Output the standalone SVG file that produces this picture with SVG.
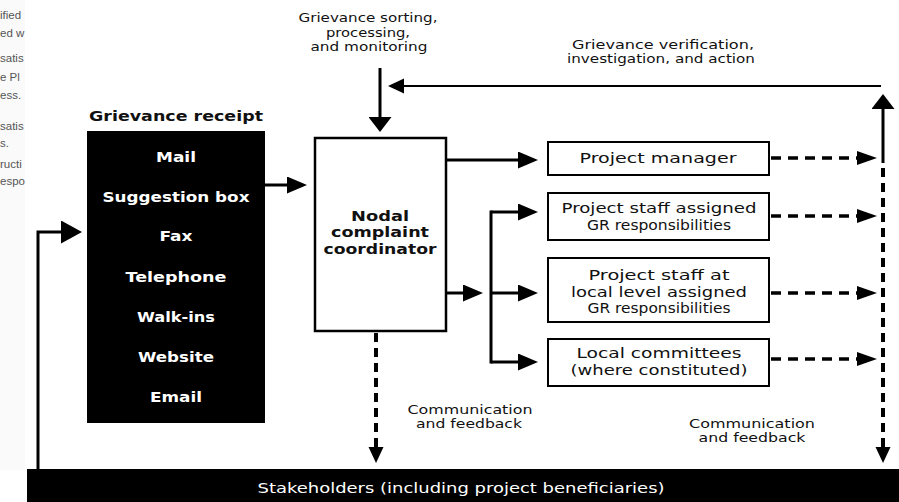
<svg xmlns="http://www.w3.org/2000/svg" width="899" height="502" viewBox="0 0 899 502">
  <style>
    .t { font-family: "DejaVu Sans", "Liberation Sans", sans-serif; fill: #111; text-anchor: middle; }
    .b { font-weight: bold; font-size: 14px; }
    .w { fill: #fff; }
    .r { font-size: 14px; }
    .s { font-size: 12.5px; }
    .frag { font-family: "Liberation Sans", Arial, sans-serif; font-size: 11.5px; fill: #555; }
    .box { fill: #fff; stroke: #000; stroke-width: 2; }
    .solid { fill: none; stroke: #000; stroke-width: 3; }
    .thin { fill: none; stroke: #000; stroke-width: 2; }
    .dash { fill: none; stroke: #000; stroke-width: 3.5; stroke-dasharray: 10 7; }
    .vdash { fill: none; stroke: #000; stroke-width: 4; stroke-dasharray: 9 6; }
  </style>
  <defs>
    <marker id="head" markerUnits="userSpaceOnUse" markerWidth="21" markerHeight="17" refX="1" refY="8.5" orient="auto">
      <path d="M0,0 L20,8.5 L0,17 z" fill="#000"/>
    </marker>
    <marker id="head-d" markerUnits="userSpaceOnUse" markerWidth="21" markerHeight="15" refX="1" refY="7" orient="auto">
      <path d="M0,0 L20,7 L0,14 z" fill="#000"/>
    </marker>
    <marker id="head-w" markerUnits="userSpaceOnUse" markerWidth="16" markerHeight="23" refX="1" refY="11.5" orient="auto">
      <path d="M0,0 L15,11.5 L0,23 z" fill="#000"/>
    </marker>
    <marker id="head-s" markerUnits="userSpaceOnUse" markerWidth="17" markerHeight="16" refX="1" refY="7.5" orient="auto">
      <path d="M0,0 L16,7.5 L0,15 z" fill="#000"/>
    </marker>
    <marker id="head-l" markerUnits="userSpaceOnUse" markerWidth="22" markerHeight="23" refX="1" refY="11.5" orient="auto">
      <path d="M0,0 L21,11.5 L0,23 z" fill="#000"/>
    </marker>
  </defs>

  <rect width="899" height="502" fill="#fff"/>

  <!-- neighbouring page text at the left margin -->
  <g id="margin-text">
    <rect x="0" y="0" width="25" height="470" fill="#fafafa"/>
    <text class="frag" x="0" y="19">ified</text>
    <text class="frag" x="0" y="37">ed w</text>
    <text class="frag" x="0" y="62">satis</text>
    <text class="frag" x="0" y="81">e Pl</text>
    <text class="frag" x="0" y="99">ess.</text>
    <text class="frag" x="0" y="130">satis</text>
    <text class="frag" x="0" y="147">s.</text>
    <text class="frag" x="0" y="168">ructi</text>
    <text class="frag" x="0" y="185">espo</text>
  </g>

  <!-- free labels -->
  <g id="labels">
    <text class="t s" x="368" y="22" textLength="139" lengthAdjust="spacingAndGlyphs">Grievance sorting,</text>
    <text class="t s" x="368" y="37" textLength="84" lengthAdjust="spacingAndGlyphs">processing,</text>
    <text class="t s" x="369" y="51" textLength="117" lengthAdjust="spacingAndGlyphs">and monitoring</text>
    <text class="t s" x="663" y="49" textLength="182" lengthAdjust="spacingAndGlyphs">Grievance verification,</text>
    <text class="t s" x="661" y="63" textLength="188" lengthAdjust="spacingAndGlyphs">investigation, and action</text>
    <text class="t s" x="470" y="414" textLength="125" lengthAdjust="spacingAndGlyphs">Communication</text>
    <text class="t s" x="469" y="428" textLength="106" lengthAdjust="spacingAndGlyphs">and feedback</text>
    <text class="t s" x="752" y="428" textLength="126" lengthAdjust="spacingAndGlyphs">Communication</text>
    <text class="t s" x="752" y="442" textLength="107" lengthAdjust="spacingAndGlyphs">and feedback</text>
  </g>

  <!-- grievance receipt channels -->
  <g id="receipt">
    <text class="t b" x="176" y="121" font-size="15" textLength="174" lengthAdjust="spacingAndGlyphs">Grievance receipt</text>
    <rect x="87" y="131" width="178" height="292" fill="#000"/>
    <text class="t b w" x="176" y="162" textLength="40" lengthAdjust="spacingAndGlyphs">Mail</text>
    <text class="t b w" x="176" y="202" textLength="147" lengthAdjust="spacingAndGlyphs">Suggestion box</text>
    <text class="t b w" x="176" y="241" textLength="33" lengthAdjust="spacingAndGlyphs">Fax</text>
    <text class="t b w" x="176" y="282" textLength="101" lengthAdjust="spacingAndGlyphs">Telephone</text>
    <text class="t b w" x="176" y="322" textLength="78" lengthAdjust="spacingAndGlyphs">Walk-ins</text>
    <text class="t b w" x="176" y="362" textLength="76" lengthAdjust="spacingAndGlyphs">Website</text>
    <text class="t b w" x="176" y="402" textLength="52" lengthAdjust="spacingAndGlyphs">Email</text>
  </g>

  <!-- nodal complaint coordinator -->
  <g id="coordinator">
    <rect x="315" y="138" width="131" height="193" fill="#fff" stroke="#000" stroke-width="2.5"/>
    <text class="t b" x="380" y="221" textLength="58" lengthAdjust="spacingAndGlyphs">Nodal</text>
    <text class="t b" x="380" y="237" textLength="98" lengthAdjust="spacingAndGlyphs">complaint</text>
    <text class="t b" x="380" y="254" textLength="113" lengthAdjust="spacingAndGlyphs">coordinator</text>
  </g>

  <g id="project-manager">
    <rect class="box" x="548" y="142" width="221" height="33"/>
    <text class="t r" x="658" y="163" textLength="157" lengthAdjust="spacingAndGlyphs">Project manager</text>
  </g>

  <g id="project-staff">
    <rect class="box" x="548" y="193" width="221" height="47"/>
    <text class="t r" x="659" y="213" textLength="195" lengthAdjust="spacingAndGlyphs">Project staff assigned</text>
    <text class="t r" x="659" y="230" textLength="144" lengthAdjust="spacingAndGlyphs">GR responsibilities</text>
  </g>

  <g id="local-staff">
    <rect class="box" x="548" y="258" width="221" height="64"/>
    <text class="t r" x="659" y="280" textLength="141" lengthAdjust="spacingAndGlyphs">Project staff at</text>
    <text class="t r" x="659" y="297" textLength="176" lengthAdjust="spacingAndGlyphs">local level assigned</text>
    <text class="t r" x="659" y="313" textLength="143" lengthAdjust="spacingAndGlyphs">GR responsibilities</text>
  </g>

  <g id="local-committees">
    <rect class="box" x="548" y="339" width="221" height="47"/>
    <text class="t r" x="659" y="358" textLength="165" lengthAdjust="spacingAndGlyphs">Local committees</text>
    <text class="t r" x="659" y="375" textLength="177" lengthAdjust="spacingAndGlyphs">(where constituted)</text>
  </g>

  <g id="stakeholders">
    <rect x="27" y="469" width="872" height="33" fill="#000"/>
    <text class="t r w" x="461" y="493" textLength="407" lengthAdjust="spacingAndGlyphs">Stakeholders (including project beneficiaries)</text>
  </g>

  <!-- connectors -->
  <g id="connectors">
    <!-- receipt to coordinator -->
    <line class="solid" x1="265" y1="185" x2="288" y2="185" marker-end="url(#head)"/>
    <!-- sorting input -->
    <line class="solid" x1="380" y1="68" x2="380" y2="118" marker-end="url(#head-w)"/>
    <!-- verification loop back to coordinator -->
    <line class="thin" x1="881" y1="86" x2="403" y2="86" marker-end="url(#head-s)"/>
    <line class="solid" x1="883" y1="163" x2="883" y2="108" marker-end="url(#head-w)"/>
    <!-- coordinator to handlers -->
    <line class="solid" x1="446" y1="160" x2="519" y2="160" marker-end="url(#head)"/>
    <line class="solid" x1="446" y1="293" x2="464" y2="293" marker-end="url(#head)"/>
    <path class="solid" d="M491,210.5 V363.5"/>
    <line class="solid" x1="491" y1="212" x2="519" y2="212" marker-end="url(#head)"/>
    <line class="solid" x1="491" y1="293" x2="519" y2="293" marker-end="url(#head)"/>
    <line class="solid" x1="491" y1="362" x2="519" y2="362" marker-end="url(#head)"/>
    <!-- handlers to feedback line -->
    <line class="dash" x1="771" y1="158" x2="858" y2="158" marker-end="url(#head-d)"/>
    <line class="dash" x1="771" y1="216" x2="858" y2="216" marker-end="url(#head-d)"/>
    <line class="dash" x1="771" y1="293" x2="858" y2="293" marker-end="url(#head-d)"/>
    <line class="dash" x1="771" y1="359" x2="858" y2="359" marker-end="url(#head-d)"/>
    <!-- communication and feedback to stakeholders -->
    <line class="vdash" x1="883" y1="168" x2="883" y2="448" marker-end="url(#head-s)"/>
    <line class="vdash" x1="376" y1="333" x2="376" y2="448" marker-end="url(#head-s)"/>
    <!-- stakeholders back to receipt -->
    <path class="solid" d="M38,469 V232 H62" marker-end="url(#head-l)"/>
  </g>
</svg>
